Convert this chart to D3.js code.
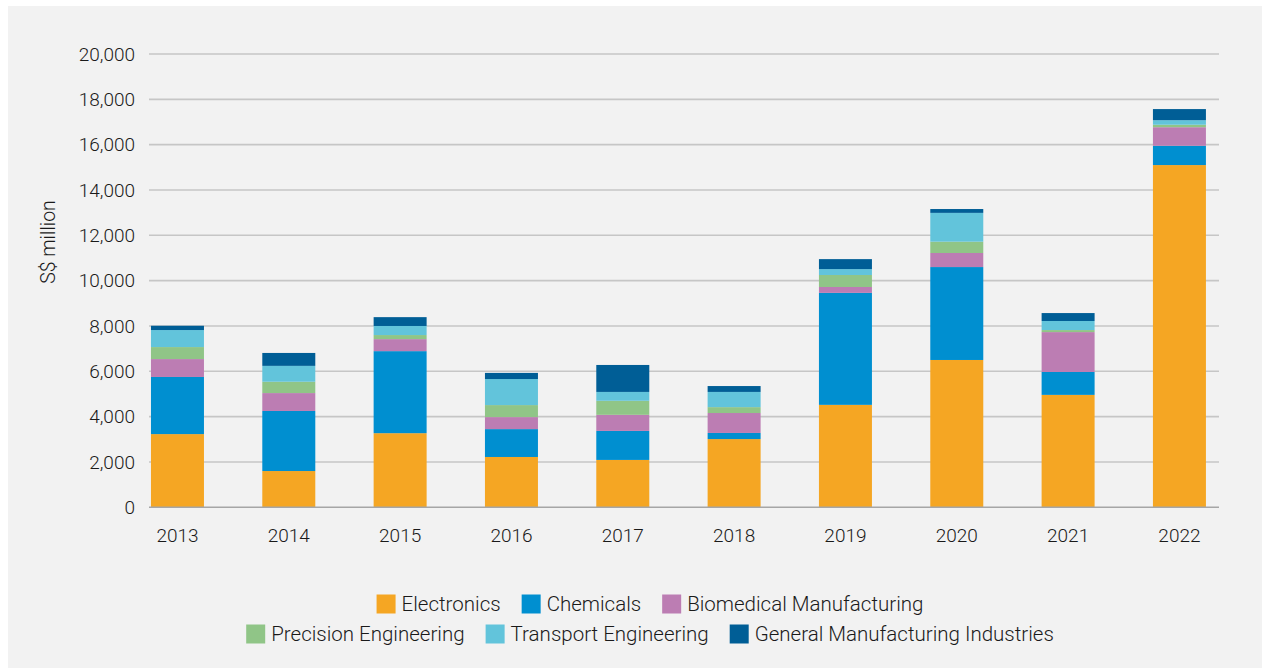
<!DOCTYPE html>
<html>
<head>
<meta charset="utf-8">
<script src="https://cdn.jsdelivr.net/npm/d3@7"></script>
<style>
  html, body { margin: 0; padding: 0; background: #ffffff; }
  svg { display: block; }
  text { font-family: Roboto, "Liberation Sans", sans-serif; font-weight: 300; fill: #1a1a1a; }
</style>
</head>
<body>
<svg id="chart" width="1262" height="668"></svg>
<script>
const years = ["2013","2014","2015","2016","2017","2018","2019","2020","2021","2022"];
const seriesNames = ["Electronics","Chemicals","Biomedical Manufacturing","Precision Engineering","Transport Engineering","General Manufacturing Industries"];
const electronics = [3230,1600,3270,2220,2090,3010,4520,6500,4960,15100];
const chemicals   = [2520,2650,3620,1230,1280, 270,4940,4100,1010,  850];
const biomedical  = [ 790, 790, 530, 530, 710, 880, 260, 620,1760,  820];
const precision   = [ 530, 500, 180, 530, 620, 260, 530, 500,  90,  110];
const transport   = [ 750, 700, 400,1150, 390, 670, 260,1270, 400,  200];
const general     = [ 190, 570, 390, 270,1190, 260, 440, 170, 350,  490];
const yTicks = [0,2000,4000,6000,8000,10000,12000,14000,16000,18000,20000];
const colors = ["#F5A623","#008FD0","#BC7DB3","#90C587","#62C4DB","#005E96"];
const legendRows = [[0,1,2],[3,4,5]];

const svg = d3.select("#chart");
svg.append("rect").attr("x",8).attr("y",6).attr("width",1254).attr("height",662).attr("fill","#f2f2f2");

const gridLeft = 149, gridRight = 1219;
const y = d3.scaleLinear().domain([0,20000]).range([507.3,54]);
const x = d3.scaleBand().domain(years).range([121.8,1235.1]).paddingInner(0.524).paddingOuter(0.262);

const seriesArrays = [electronics,chemicals,biomedical,precision,transport,general];
const table = years.map((yr,i) => {
  const row = {year: yr};
  seriesNames.forEach((s,j) => row[s] = seriesArrays[j][i]);
  return row;
});
const stacked = d3.stack().keys(seriesNames)(table);

// gridlines
svg.append("g").selectAll("line").data(yTicks.filter(t => t>0)).join("line")
  .attr("x1",gridLeft).attr("x2",gridRight)
  .attr("y1",d=>y(d)).attr("y2",d=>y(d))
  .attr("stroke","#c6c6c6").attr("stroke-width",1.6);

// y labels
svg.append("g").selectAll("text").data(yTicks).join("text")
  .attr("x",135).attr("y",d=>y(d)).attr("dy","0.35em")
  .attr("text-anchor","end").attr("font-size",19)
  .text(d=>d3.format(",")(d));

// bars
svg.append("g").selectAll("g").data(stacked).join("g")
  .attr("fill",(d,i)=>colors[i])
  .selectAll("rect").data(d=>d).join("rect")
  .attr("x",d=>x(d.data.year)).attr("width",x.bandwidth())
  .attr("y",d=>y(d[1])).attr("height",d=>y(d[0])-y(d[1]));

// zero axis
svg.append("line").attr("x1",gridLeft).attr("x2",gridRight)
  .attr("y1",y(0)).attr("y2",y(0)).attr("stroke","#a6a6a6").attr("stroke-width",1.6);

// x labels
svg.append("g").selectAll("text").data(years).join("text")
  .attr("x",d=>x(d)+x.bandwidth()/2).attr("y",542)
  .attr("text-anchor","middle").attr("font-size",19).text(d=>d);

// y title
svg.append("text").attr("transform","translate(55,242) rotate(-90)")
  .attr("text-anchor","middle").attr("font-size",19.5).text("S$ million");

// legend
const rowY = [604,634];
legendRows.forEach((row,ri) => {
  const g = svg.append("g");
  let cx = 0;
  row.forEach(si => {
    g.append("rect").attr("x",cx).attr("y",rowY[ri]-9.5).attr("width",19).attr("height",19).attr("fill",colors[si]);
    const t = g.append("text").attr("x",cx+25).attr("y",rowY[ri]).attr("dy","0.35em")
      .attr("font-size",20.5).text(seriesNames[si]);
    cx += 25 + t.node().getComputedTextLength() + 21;
  });
  const total = cx - 21;
  g.attr("transform",`translate(${650 - total/2},0)`);
});
</script>
</body>
</html>
